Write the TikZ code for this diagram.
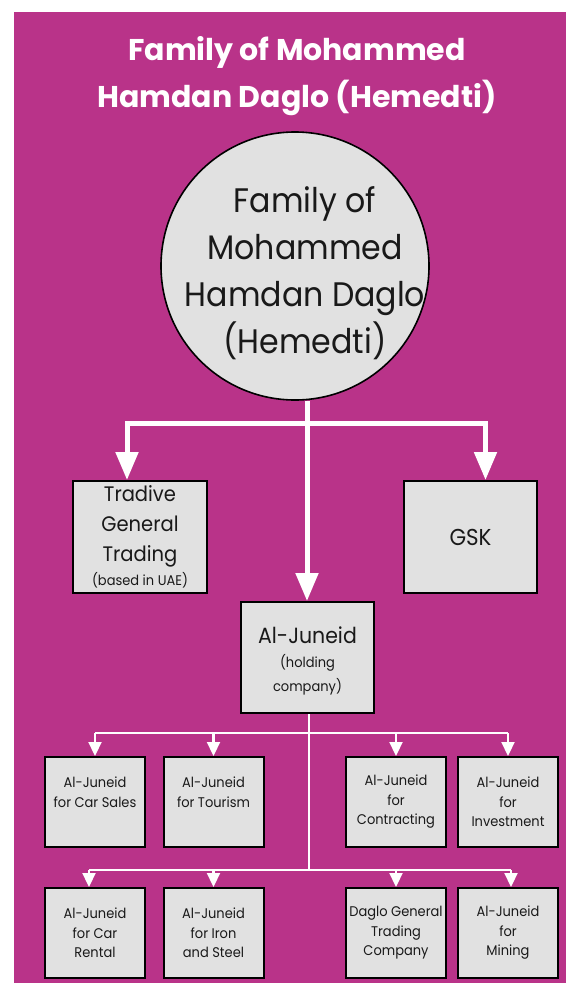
\documentclass[tikz,border=0pt]{standalone}
\usepackage{fontspec}
\setmainfont{Poppins}[FakeStretch=0.93]
\newfontfamily\titlefont{Poppins}
\usetikzlibrary{arrows.meta,calc}
\definecolor{bgmag}{RGB}{185,51,137}
\definecolor{boxgray}{RGB}{225,225,225}
\definecolor{ink}{RGB}{25,25,25}
\newcommand\szTitle{\titlefont\fontsize{30}{47}\selectfont\bfseries}
\newcommand\szCirc{\fontsize{34}{47}\selectfont}
\newcommand\szMid{\fontsize{21}{30}\selectfont}
\newcommand\szSub{\fontsize{14}{18}\selectfont}
\newcommand\szSmall{\fontsize{14}{19.5}\selectfont}
\begin{document}
\begin{tikzpicture}[x=1pt,y=-1pt,
  bigbox/.style={draw=black,line width=2pt,fill=boxgray,text=ink,align=center,inner sep=0pt},
  smallbox/.style={bigbox,minimum width=100pt,minimum height=90pt,font=\szSmall},
  bigarrow/.style={draw=white,line width=5pt,-{Triangle[width=22pt,length=28pt]}},
  smallarrow/.style={draw=white,line width=2.2pt,-{Triangle[width=13pt,length=14pt]}},
  barline/.style={draw=white,line width=2.2pt}]
\useasboundingbox (0,0) rectangle (566,985);
\fill[white] (0,0) rectangle (566,985);
\fill[bgmag] (14,12) rectangle (566,983);
% title
\node[text=white,align=center,font=\szTitle] (title) at (297,76) {Family of Mohammed\\Hamdan Daglo (Hemedti)};
% circle
\node[circle,draw=black,line width=1.6pt,fill=boxgray,minimum size=268pt,inner sep=0pt] (fam) at (295,266) {};
\node[text=ink,align=center,font=\szCirc] (famtext) at (305,273) {Family of\\Mohammed\\Hamdan Daglo\\(Hemedti)};
% level 1 boxes
\node[bigbox,minimum width=134pt,minimum height=112pt,font=\szMid] (trad) at (140,537)
  {\szMid Tradive\\ \szMid General\\ \szMid Trading\\[-6pt] \szSub (based in UAE)};
\node[bigbox,minimum width=133pt,minimum height=112pt,font=\fontsize{23}{26}\selectfont] (gsk) at (470.5,537) {GSK};
\node[bigbox,minimum width=133pt,minimum height=111pt] (jun) at (307.5,657.5) {};
\node[text=ink,align=center,inner sep=0pt,font=\fontsize{14}{24}\selectfont] (juntext) at (307.5,661)
  {\fontsize{22}{24}\selectfont Al-Juneid\\ \szSub (holding\\ \szSub company)};
% level 2 boxes
\node[smallbox] (cars) at (95,802) {Al-Juneid\\for Car Sales\\\phantom{X}};
\node[smallbox] (tour) at (213.5,802) {Al-Juneid\\for Tourism\\\phantom{X}};
\node[smallbox] (cont) at (396,802) {Al-Juneid\\for\\Contracting};
\node[smallbox] (inv) at (508,802) {Al-Juneid\\for\\Investment};
\node[smallbox] (rent) at (95,933) {Al-Juneid\\for Car\\Rental};
\node[smallbox] (iron) at (213.5,933) {Al-Juneid\\for Iron\\and Steel};
\node[smallbox] (daglo) at (396,933) {Daglo General\\Trading\\Company};
\node[smallbox] (mine) at (508,933) {Al-Juneid\\for\\Mining};
% junctions
\coordinate (j0) at (307,423);
\coordinate (j1) at (309,733);
\coordinate (j2) at (309,870);
% level 1 connectors
\draw[bigarrow] (j0 |- fam.south) -- (j0 |- jun.north);
\draw[bigarrow] (j0) -| ([xshift=-13pt]trad.north);
\draw[bigarrow] (j0) -| ([xshift=15pt]gsk.north);
% level 2 connectors
\draw[barline] (j1 |- jun.south) -- (j2);
\draw[barline] (j1 -| cars.north) -- (j1 -| inv.north);
\draw[barline] ([xshift=-6pt]j2 -| rent.north) -- ([xshift=3pt]j2 -| mine.north);
\draw[smallarrow] (j1 -| cars.north) -- (cars.north);
\draw[smallarrow] (j1 -| tour.north) -- (tour.north);
\draw[smallarrow] (j1 -| cont.north) -- (cont.north);
\draw[smallarrow] (j1 -| inv.north) -- (inv.north);
\draw[smallarrow] ([xshift=-6pt]j2 -| rent.north) -- ([xshift=-6pt]rent.north);
\draw[smallarrow] (j2 -| iron.north) -- (iron.north);
\draw[smallarrow] (j2 -| daglo.north) -- (daglo.north);
\draw[smallarrow] ([xshift=3pt]j2 -| mine.north) -- ([xshift=3pt]mine.north);
\end{tikzpicture}
\end{document}
